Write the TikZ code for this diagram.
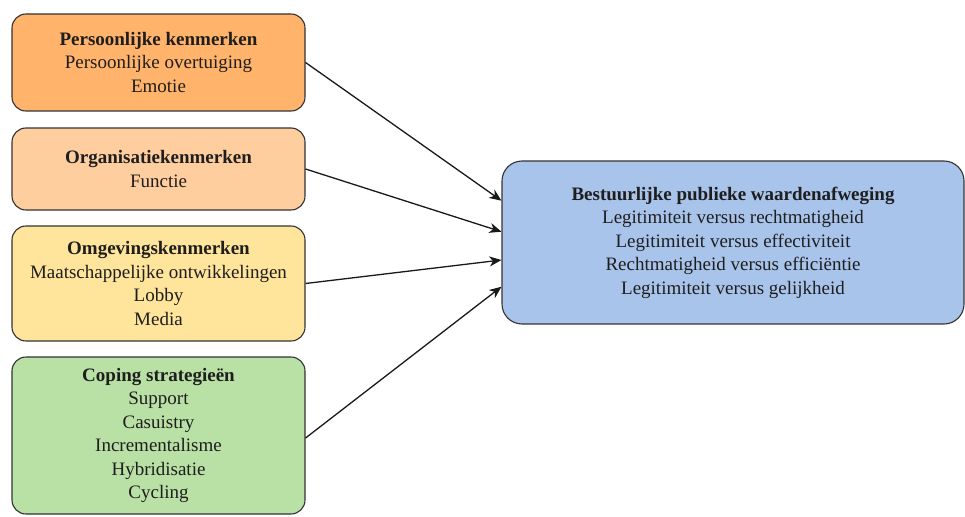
\documentclass[tikz,border=0pt]{standalone}
\usepackage{fontspec}
\setmainfont{Liberation Serif}
\usetikzlibrary{arrows.meta}
\definecolor{edge}{HTML}{333333}
\definecolor{txt}{HTML}{1E1E1E}
\definecolor{persfill}{HTML}{FFB36B}
\definecolor{orgfill}{HTML}{FFCE9F}
\definecolor{omgfill}{HTML}{FFE49B}
\definecolor{copfill}{HTML}{B9E0A5}
\definecolor{bpwfill}{HTML}{A9C4EB}
\begin{document}
\begin{tikzpicture}[x=1pt,y=-1pt,
  box/.style={draw=edge, line width=1.1pt, rounded corners=14pt, align=center,
    inner sep=0pt, text=txt, font=\fontsize{19}{23.5}\selectfont},
  leftbox/.style={box, minimum width=293pt},
  link/.style={draw=black!90, line width=1.3pt,
    -{Stealth[length=12pt,width=10pt,inset=3.5pt]}}]
\useasboundingbox (0,0) rectangle (965,516);

% factor boxes
\node[leftbox, fill=persfill, minimum height=97pt] (pers) at (158.5,62.5)
  {\textbf{Persoonlijke kenmerken}\\Persoonlijke overtuiging\\Emotie};
\node[leftbox, fill=orgfill, minimum height=82pt] (org) at (158.5,169)
  {\textbf{Organisatiekenmerken}\\Functie};
\node[leftbox, fill=omgfill, minimum height=115pt] (omg) at (158.5,283.5)
  {\textbf{Omgevingskenmerken}\\Maatschappelijke ontwikkelingen\\Lobby\\Media};
\node[leftbox, fill=copfill, minimum height=157pt] (cop) at (158.5,435.5)
  {\textbf{Coping strategieën}\\Support\\Casuistry\\Incrementalisme\\Hybridisatie\\Cycling};

% outcome box
\node[box, fill=bpwfill, rounded corners=20pt, minimum width=462pt, minimum height=163pt] (bpw) at (733,242.5)
  {\textbf{Bestuurlijke publieke waardenafweging}\\Legitimiteit versus rechtmatigheid\\Legitimiteit versus effectiviteit\\Rechtmatigheid versus efficiëntie\\Legitimiteit versus gelijkheid};

% connectors
\draw[link] (pers.east) -- ([yshift=41.8pt]bpw.west);
\draw[link] (org.east) -- ([yshift=10.8pt]bpw.west);
\draw[link] (omg.east) -- ([yshift=-17.5pt]bpw.west);
\draw[link] ([yshift=-2.5pt]cop.east) -- ([yshift=-44.2pt]bpw.west);
\end{tikzpicture}
\end{document}
